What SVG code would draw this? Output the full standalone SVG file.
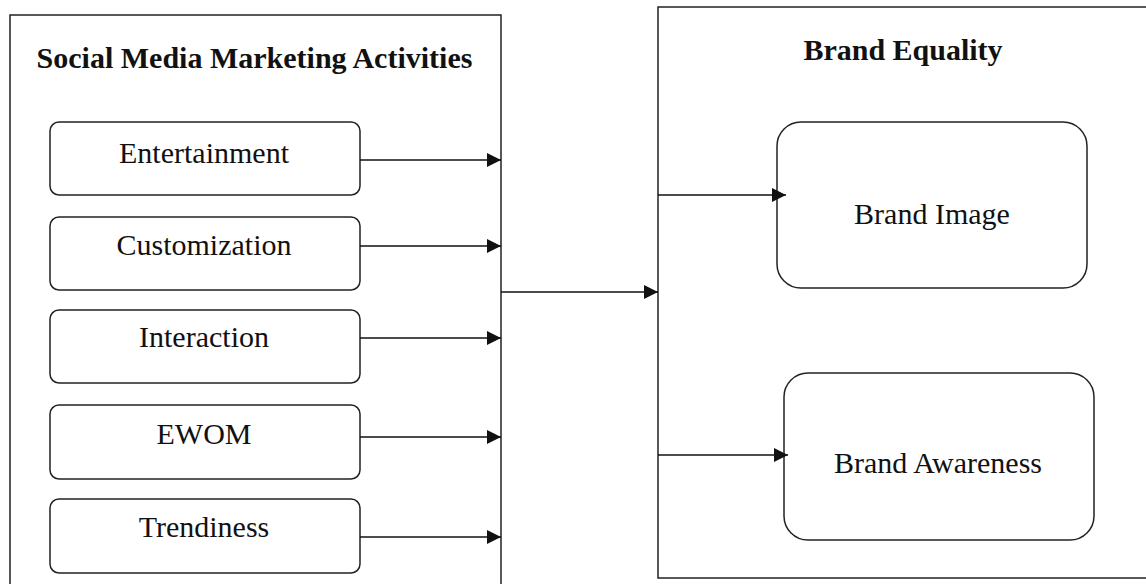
<svg xmlns="http://www.w3.org/2000/svg" width="1146" height="584" viewBox="0 0 1146 584">
<defs>
<style>
.frame{fill:#fff;stroke:#222;stroke-width:1.5}
.box{fill:#fff;stroke:#222;stroke-width:1.5}
.conn{stroke:#111;stroke-width:1.5;fill:none}
.t{font-family:"Liberation Serif","Times New Roman",serif;font-size:30px;fill:#111;text-anchor:middle}
.b{font-weight:bold}
</style>
<marker id="ah" markerWidth="14" markerHeight="14" refX="14" refY="7" orient="auto" markerUnits="userSpaceOnUse">
<path d="M0,0 L14,7 L0,14 Z" fill="#111"/>
</marker>
</defs>
<rect width="1146" height="584" fill="#fff"/>
<g id="smma">
<rect class="frame" x="10" y="15" width="491" height="600"/>
<text class="t b" x="254.5" y="68">Social Media Marketing Activities</text>
</g>
<g id="be">
<rect class="frame" x="658" y="7" width="520" height="571"/>
<text class="t b" x="903" y="60">Brand Equality</text>
</g>
<g id="entertainment">
<rect class="box" x="50" y="122" width="310" height="73" rx="9"/>
<text class="t" x="204" y="163">Entertainment</text>
</g>
<g id="customization">
<rect class="box" x="50" y="217" width="310" height="73" rx="9"/>
<text class="t" x="204" y="255">Customization</text>
</g>
<g id="interaction">
<rect class="box" x="50" y="310" width="310" height="73" rx="9"/>
<text class="t" x="204" y="347">Interaction</text>
</g>
<g id="ewom">
<rect class="box" x="50" y="405" width="310" height="74" rx="9"/>
<text class="t" x="204" y="444">EWOM</text>
</g>
<g id="trendiness">
<rect class="box" x="50" y="499" width="310" height="74" rx="9"/>
<text class="t" x="204" y="537">Trendiness</text>
</g>
<g id="brand-image">
<rect class="box" x="777" y="122" width="310" height="166" rx="24"/>
<text class="t" x="932" y="224">Brand Image</text>
</g>
<g id="brand-awareness">
<rect class="box" x="784" y="373" width="310" height="167" rx="24"/>
<text class="t" x="938" y="473">Brand Awareness</text>
</g>
<g id="connectors">
<line class="conn" x1="360" y1="160" x2="501" y2="160" marker-end="url(#ah)"/>
<line class="conn" x1="360" y1="246" x2="501" y2="246" marker-end="url(#ah)"/>
<line class="conn" x1="360" y1="338" x2="501" y2="338" marker-end="url(#ah)"/>
<line class="conn" x1="360" y1="437" x2="501" y2="437" marker-end="url(#ah)"/>
<line class="conn" x1="360" y1="537" x2="501" y2="537" marker-end="url(#ah)"/>
<line class="conn" x1="501" y1="292" x2="658" y2="292" marker-end="url(#ah)"/>
<line class="conn" x1="658" y1="195" x2="786" y2="195" marker-end="url(#ah)"/>
<line class="conn" x1="658" y1="455" x2="788" y2="455" marker-end="url(#ah)"/>
</g>
</svg>
